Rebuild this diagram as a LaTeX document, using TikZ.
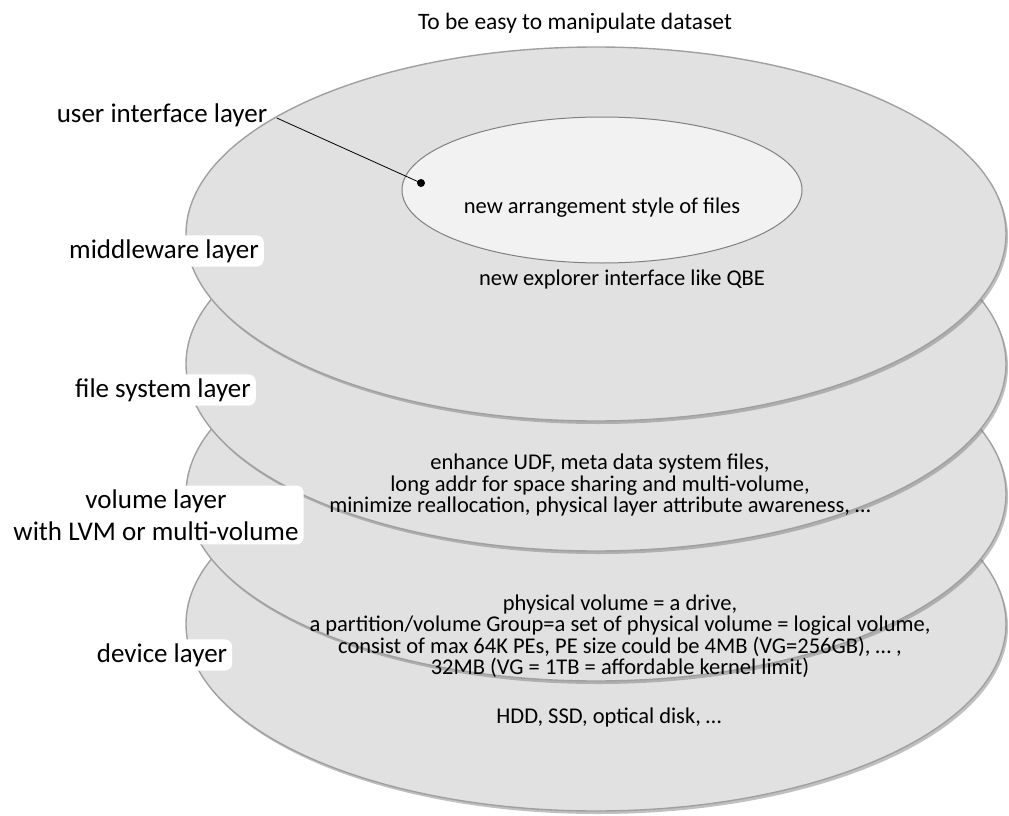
\documentclass[tikz,border=0pt]{standalone}
\usepackage{fontspec}
\setmainfont{Carlito}
\usepackage{tikz}
\usetikzlibrary{shapes.geometric,shadows}
\definecolor{diskgray}{RGB}{225,225,225}
\definecolor{diskline}{RGB}{160,160,160}
\definecolor{topfill}{RGB}{242,242,242}
\definecolor{topline}{RGB}{128,128,128}
\tikzset{
		disk/.style={
			ellipse,
			fill=diskgray,
			draw=diskline, line width=1.4pt,
			minimum width=820pt,
			minimum height=374pt,
			inner sep=0pt,
			drop shadow={shadow xshift=2pt, shadow yshift=-3pt, opacity=.45, fill=black!55}},
		toplayer/.style={
			ellipse,
			fill=topfill,
			draw=topline, line width=1pt,
			minimum width=400pt,
			minimum height=146pt,
			inner sep=0pt},
		layertag/.style={
			fill=white,
			rounded corners=7pt,
			font=\fontsize{27}{32}\selectfont,
			align=center,
			inner xsep=5pt, inner ysep=4pt},
		disktext/.style={font=\fontsize{22.5}{21.5}\selectfont, align=center},
		leader/.style={draw, line width=.8pt},
	}

\begin{document}
\begin{tikzpicture}[x=1pt,y=-1pt]
				\useasboundingbox (0,0) rectangle (1009,816);
				
				%% stack of disks, lowest first
				\node[disk] (device) at (596,624) {};
				\node[disk] (volume) at (596,494) {};
				\node[disk] (filesys) at (596,364) {};
				\node[disk] (middle) at (596,234) {};
				\node[toplayer] (ui) at (602,190) {};
				
				\node[font=\fontsize{23.5}{26}\selectfont] (goal) at (575,23) {To be easy to manipulate dataset};
				
				\node[disktext] (uitext) at (602,208) {new arrangement style of files};
				\node[disktext] (midtext) at (622,279) {new explorer interface like QBE};
				\node[disktext] (fstext) at (600,485) {enhance UDF, meta data system files,\\
					long addr for space sharing and multi-volume,\\
					minimize reallocation, physical layer attribute awareness, \dots};
				\node[disktext] (voltext) at (620,636) {physical volume = a drive,\\
					a partition/volume Group=a set of physical volume = logical volume,\\
					consist of max 64K PEs, PE size could be 4MB (VG=256GB), \dots\ ,\\
					32MB (VG = 1TB = affordable kernel limit)};
				\node[disktext] (devtext) at (609,717) {HDD, SSD, optical disk, \dots};
				
				%% layer names on the left
				\node[font=\fontsize{27}{32}\selectfont] (uilabel) at (162,115) {user interface layer};
				\node[layertag] (midlabel) at (164,251) {middleware layer};
				\node[layertag] (fslabel) at (163,390) {file system layer};
				\node[layertag] (vollabel) at (156,515) {volume layer\\ with LVM or multi-volume};
				\node[layertag] (devlabel) at (162,655) {device layer};
				
				\coordinate (uidot) at (421,183);
				\path[leader] ([shift={(6,3)}]uilabel.east) -- (uidot);
				\fill (uidot) circle (4pt);
				
\end{tikzpicture}
\end{document}
